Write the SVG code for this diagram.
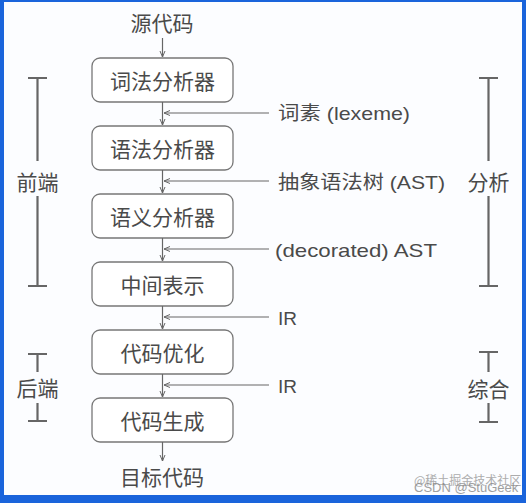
<svg xmlns="http://www.w3.org/2000/svg" width="526" height="503" viewBox="0 0 526 503">
<defs>
<marker id="ah" markerWidth="8" markerHeight="8" refX="7" refY="4" orient="auto" markerUnits="userSpaceOnUse">
<path d="M1,1.5 L7,4 L1,6.5" fill="none" stroke="#666" stroke-width="1"/>
</marker>
<style>
.box{fill:#fff;stroke:#777;stroke-width:1.3}
.bt{font-family:"Noto Sans CJK SC","Noto Sans",sans-serif;font-size:21px;fill:#4a4a4a;text-anchor:middle;dominant-baseline:central}
.lt{font-family:"Liberation Sans","Noto Sans CJK SC",sans-serif;font-size:19px;fill:#4a4a4a;dominant-baseline:central}
.ln{stroke:#666;stroke-width:1.2;fill:none}
.br{stroke:#666;stroke-width:2.2;fill:none}
</style>
</defs>
<rect x="0" y="0" width="526" height="503" fill="#1a64db"/>
<rect x="4" y="2" width="518" height="493" fill="#fcfdff"/>
<text class="bt" x="162" y="22">源代码</text>
<text class="bt" x="162" y="476">目标代码</text>
<g id="n1"><rect class="box" x="92" y="58" width="141" height="44" rx="8"/><text class="bt" x="162.5" y="80">词法分析器</text></g>
<g id="n2"><rect class="box" x="92" y="126" width="141" height="44" rx="8"/><text class="bt" x="162.5" y="148">语法分析器</text></g>
<g id="n3"><rect class="box" x="92" y="194" width="141" height="44" rx="8"/><text class="bt" x="162.5" y="216">语义分析器</text></g>
<g id="n4"><rect class="box" x="92" y="262" width="141" height="44" rx="8"/><text class="bt" x="162.5" y="284">中间表示</text></g>
<g id="n5"><rect class="box" x="92" y="330" width="141" height="44" rx="8"/><text class="bt" x="162.5" y="352">代码优化</text></g>
<g id="n6"><rect class="box" x="92" y="398" width="141" height="44" rx="8"/><text class="bt" x="162.5" y="420">代码生成</text></g>
<g id="connectors">
<line class="ln" x1="162.5" y1="38" x2="162.5" y2="57" marker-end="url(#ah)"/>
<line class="ln" x1="162.5" y1="102" x2="162.5" y2="125" marker-end="url(#ah)"/>
<line class="ln" x1="162.5" y1="170" x2="162.5" y2="193" marker-end="url(#ah)"/>
<line class="ln" x1="162.5" y1="238" x2="162.5" y2="261" marker-end="url(#ah)"/>
<line class="ln" x1="162.5" y1="306" x2="162.5" y2="329" marker-end="url(#ah)"/>
<line class="ln" x1="162.5" y1="374" x2="162.5" y2="397" marker-end="url(#ah)"/>
<line class="ln" x1="162.5" y1="442" x2="162.5" y2="461" marker-end="url(#ah)"/>
<line class="ln" x1="269" y1="113" x2="164" y2="113" marker-end="url(#ah)"/>
<line class="ln" x1="269" y1="181" x2="164" y2="181" marker-end="url(#ah)"/>
<line class="ln" x1="269" y1="249" x2="164" y2="249" marker-end="url(#ah)"/>
<line class="ln" x1="269" y1="317" x2="164" y2="317" marker-end="url(#ah)"/>
<line class="ln" x1="269" y1="385" x2="164" y2="385" marker-end="url(#ah)"/>
</g>
<text class="lt" x="278" y="113" textLength="132" lengthAdjust="spacingAndGlyphs">词素 (lexeme)</text>
<text class="lt" x="278" y="182" textLength="167" lengthAdjust="spacingAndGlyphs">抽象语法树 (AST)</text>
<text class="lt" x="275" y="250" textLength="162" lengthAdjust="spacingAndGlyphs">(decorated) AST</text>
<text class="lt" x="278" y="318" textLength="19" lengthAdjust="spacingAndGlyphs">IR</text>
<text class="lt" x="278" y="386" textLength="19" lengthAdjust="spacingAndGlyphs">IR</text>
<g id="frontend">
<path class="br" d="M28,78 H47 M37.5,78 V161 M37.5,196 V286 M28,286 H47"/>
<text class="bt" x="37.5" y="181">前端</text>
</g>
<g id="backend">
<path class="br" d="M28,354 H47 M37.5,354 V372 M37.5,403 V421 M28,421 H47"/>
<text class="bt" x="37.5" y="387">后端</text>
</g>
<g id="analysis">
<path class="br" d="M479,78 H498 M488.5,78 V161 M488.5,196 V286 M479,286 H498"/>
<text class="bt" x="488.5" y="181">分析</text>
</g>
<g id="synthesis">
<path class="br" d="M479,352 H498 M488.5,352 V372 M488.5,403 V422 M479,422 H498"/>
<text class="bt" x="488.5" y="388">综合</text>
</g>
<text x="414" y="485" font-family="Noto Sans CJK SC,sans-serif" font-size="12" fill="#999" opacity="0.8">@稀土掘金技术社区</text>
<text x="414" y="492" font-family="Liberation Sans,sans-serif" font-size="13" fill="#888" opacity="0.8">CSDN @StuGeek</text>
</svg>
